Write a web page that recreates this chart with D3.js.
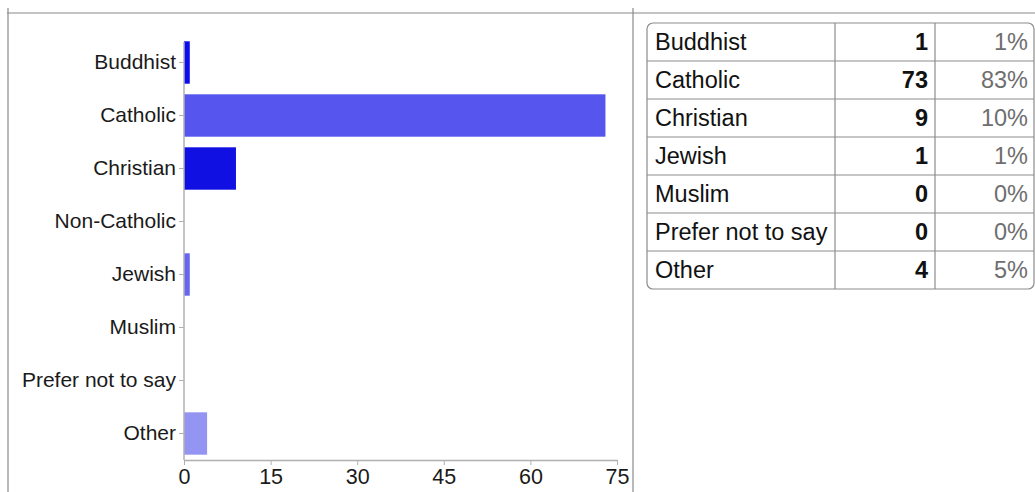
<!DOCTYPE html>
<html lang="en">
<head>
<meta charset="UTF-8">
<title>Religion</title>
<script src="https://d3js.org/d3.v7.min.js"></script>
<style>
  body { margin: 0; background: #fff; }
  svg text { font-family: "Liberation Sans", Arial, sans-serif; }
</style>
</head>
<body>
<svg id="chart"></svg>
<script>
    // Data
    const categories = ["Buddhist", "Catholic", "Christian", "Non-Catholic", "Jewish", "Muslim", "Prefer not to say", "Other"];
    const counts = [1, 73, 9, 0, 1, 0, 0, 4];
    const barColors = ["#0c0cee", "#5656ee", "#1010e2", "#dddddd", "#6666f2", "#dddddd", "#dddddd", "#9494f2"];
    const xTicks = [0, 15, 30, 45, 60, 75];

    const tableLabels = ["Buddhist", "Catholic", "Christian", "Jewish", "Muslim", "Prefer not to say", "Other"];
    const tableCounts = [1, 73, 9, 1, 0, 0, 4];
    const tablePercents = ["1%", "83%", "10%", "1%", "0%", "0%", "5%"];

    // Constants
    const W = 1035, H = 492;
    const svg = d3.select("#chart").attr("width", W).attr("height", H);

    // Frame lines
    svg.append("line").attr("x1", 7).attr("x2", W).attr("y1", 13).attr("y2", 13)
        .attr("stroke", "#8a8a8a").attr("stroke-width", 1.2);
    svg.append("line").attr("x1", 8).attr("x2", 8).attr("y1", 8).attr("y2", H)
        .attr("stroke", "#8a8a8a").attr("stroke-width", 1.2);
    svg.append("line").attr("x1", 633).attr("x2", 633).attr("y1", 8).attr("y2", H)
        .attr("stroke", "#8a8a8a").attr("stroke-width", 1.2);

    // Bar chart
    const x = d3.scaleLinear().domain([0, 75]).range([184, 617]);
    const y = d3.scaleBand().domain(categories).range([36, 460])
        .paddingInner(0.2).paddingOuter(0.1);

    const rows = categories.map((c, i) => ({ cat: c, count: counts[i], color: barColors[i] }));

    svg.append("g").selectAll("rect")
        .data(rows.filter(d => d.count > 0))
        .enter()
        .append("rect")
        .attr("x", x(0))
        .attr("y", d => y(d.cat))
        .attr("width", d => x(d.count) - x(0))
        .attr("height", y.bandwidth())
        .attr("fill", d => d.color);

    const yAxis = svg.append("g")
        .attr("transform", "translate(" + x(0) + ",0)")
        .call(d3.axisLeft(y).tickSize(5).tickSizeOuter(0).tickPadding(3));
    yAxis.select(".domain").attr("stroke", "#b0b0b0").attr("stroke-width", 1.5)
        .attr("d", "M0," + (y.range()[0] + 6) + "V" + y.range()[1]);
    yAxis.selectAll(".tick line").attr("stroke", "#b0b0b0");
    yAxis.selectAll(".tick text").attr("font-size", 21).attr("fill", "#1a1a1a")
        .attr("font-family", "Liberation Sans, Arial, sans-serif");

    const xAxis = svg.append("g")
        .attr("transform", "translate(0,460)")
        .call(d3.axisBottom(x).tickValues(xTicks).tickSize(5).tickSizeOuter(0).tickPadding(4));
    xAxis.select(".domain").attr("stroke", "#b0b0b0").attr("stroke-width", 1.5);
    xAxis.selectAll(".tick line").attr("stroke", "#b0b0b0");
    xAxis.selectAll(".tick text").attr("font-size", 21.5).attr("fill", "#1a1a1a")
        .attr("font-family", "Liberation Sans, Arial, sans-serif");

    // Table
    const tLeft = 647, tRight = 1034, tTop = 23, rowH = 38;
    const col1 = 835, col2 = 935;
    const tBottom = tTop + rowH * tableLabels.length;
    const tbl = svg.append("g");

    tbl.append("rect")
        .attr("x", tLeft).attr("y", tTop)
        .attr("width", tRight - tLeft).attr("height", tBottom - tTop)
        .attr("rx", 6).attr("ry", 6)
        .attr("fill", "none").attr("stroke", "#8c8c8c").attr("stroke-width", 1.2);

    [col1, col2].forEach(cx => {
        tbl.append("line").attr("x1", cx).attr("x2", cx).attr("y1", tTop).attr("y2", tBottom)
            .attr("stroke", "#8c8c8c").attr("stroke-width", 1.2);
    });

    tableLabels.forEach((lab, i) => {
        const top = tTop + i * rowH;
        if (i > 0) {
            tbl.append("line").attr("x1", tLeft).attr("x2", tRight).attr("y1", top).attr("y2", top)
                .attr("stroke", "#8c8c8c").attr("stroke-width", 1.2);
        }
        const base = top + rowH / 2 + 8;
        tbl.append("text").attr("x", 655).attr("y", base)
            .attr("font-size", 23.5).attr("fill", "#111").text(lab);
        tbl.append("text").attr("x", 928).attr("y", base)
            .attr("text-anchor", "end").attr("font-size", 23.5).attr("font-weight", "bold")
            .attr("fill", "#111").text(tableCounts[i]);
        tbl.append("text").attr("x", 1028).attr("y", base)
            .attr("text-anchor", "end").attr("font-size", 23.5)
            .attr("fill", "#6e6e6e").text(tablePercents[i]);
    });
</script>
</body>
</html>
